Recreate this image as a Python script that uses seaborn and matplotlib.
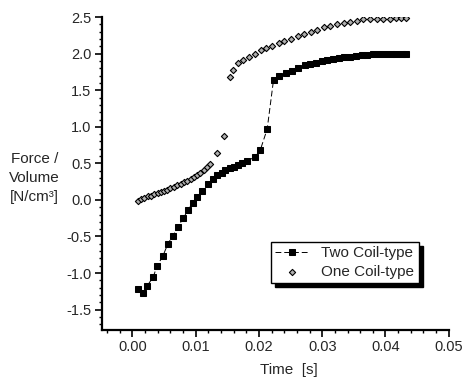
import numpy as np
import pandas as pd
import matplotlib
matplotlib.use("Agg")
import matplotlib.pyplot as plt
from matplotlib.ticker import MultipleLocator, FormatStrFormatter
import seaborn as sns

# Two Coil-type
t_two = [0.0008, 0.0016, 0.0023, 0.0033, 0.0039, 0.0048, 0.0056, 0.0064, 0.0072,
         0.0080, 0.0088, 0.0095, 0.0102, 0.0110, 0.0119, 0.0127, 0.0134, 0.0141,
         0.0147, 0.0155, 0.0161, 0.0167, 0.0173, 0.0181, 0.0194, 0.0202, 0.0213,
         0.0223, 0.0232, 0.0242, 0.0252, 0.0261, 0.0272, 0.0281, 0.0290, 0.0299,
         0.0308, 0.0317, 0.0326, 0.0335, 0.0344, 0.0354, 0.0363, 0.0371, 0.0381,
         0.0390, 0.0399, 0.0408, 0.0417, 0.0426, 0.0433]
f_two = [-1.22, -1.28, -1.18, -1.05, -0.90, -0.77, -0.60, -0.49, -0.37,
         -0.25, -0.14, -0.04, 0.04, 0.12, 0.22, 0.29, 0.34, 0.37,
         0.41, 0.44, 0.45, 0.48, 0.51, 0.53, 0.59, 0.68, 0.97,
         1.64, 1.69, 1.73, 1.77, 1.81, 1.84, 1.86, 1.88, 1.90,
         1.92, 1.93, 1.94, 1.95, 1.96, 1.97, 1.98, 1.98, 1.99,
         1.99, 1.99, 2.00, 2.00, 2.00, 2.00]

# One Coil-type
t_one = [0.0008, 0.0014, 0.0019, 0.0024, 0.0029, 0.0034, 0.0040, 0.0045, 0.0050,
         0.0055, 0.0060, 0.0066, 0.0071, 0.0076, 0.0081, 0.0086, 0.0092, 0.0097,
         0.0102, 0.0107, 0.0113, 0.0118, 0.0123, 0.0133, 0.0145,
         0.0154, 0.0159, 0.0167, 0.0175, 0.0184, 0.0193, 0.0203, 0.0211, 0.0221,
         0.0231, 0.0240, 0.0250, 0.0261, 0.0271, 0.0282, 0.0292, 0.0303, 0.0313,
         0.0323, 0.0334, 0.0344, 0.0355, 0.0365, 0.0375, 0.0386, 0.0396, 0.0407,
         0.0417, 0.0425, 0.0433]
f_one = [-0.01, 0.01, 0.03, 0.05, 0.06, 0.08, 0.09, 0.11, 0.12,
         0.14, 0.16, 0.18, 0.20, 0.22, 0.24, 0.26, 0.29, 0.32,
         0.34, 0.37, 0.41, 0.45, 0.49, 0.64, 0.87,
         1.68, 1.78, 1.87, 1.92, 1.96, 2.00, 2.05, 2.08, 2.11,
         2.15, 2.18, 2.20, 2.24, 2.27, 2.30, 2.33, 2.36, 2.38,
         2.41, 2.42, 2.43, 2.45, 2.47, 2.47, 2.48, 2.48, 2.48,
         2.49, 2.49, 2.49]

df_two = pd.DataFrame({"t": t_two, "f": f_two})
df_one = pd.DataFrame({"t": t_one, "f": f_one})

sns.set_style("ticks")
plt.rcParams["font.family"] = ["Liberation Sans", "DejaVu Sans"]

fig = plt.figure(figsize=(4.65, 3.82), dpi=100)
ax = fig.add_axes([0.219, 0.136, 0.746, 0.819])

sns.lineplot(data=df_two, x="t", y="f", ax=ax, color="black", lw=0.7,
             linestyle=(0, (6, 3)), marker="s", markersize=4.2,
             markeredgecolor="black", label="Two Coil-type")
sns.scatterplot(data=df_one, x="t", y="f", ax=ax, marker="D", s=10,
                facecolor="#b0b0b0", edgecolor="black", linewidth=0.8,
                label="One Coil-type")

ax.set_xlim(-0.00484, 0.05)
ax.set_ylim(-1.78, 2.5)
ax.xaxis.set_major_locator(MultipleLocator(0.01))
ax.xaxis.set_minor_locator(MultipleLocator(0.002))
ax.yaxis.set_major_locator(MultipleLocator(0.5))
ax.yaxis.set_minor_locator(MultipleLocator(0.1))
ax.xaxis.set_major_formatter(FormatStrFormatter("%.2f"))
ax.yaxis.set_major_formatter(FormatStrFormatter("%.1f"))
ax.tick_params(which="major", direction="out", length=5, width=1.2,
               labelsize=10.5, color="black", pad=2.5)
ax.tick_params(which="minor", direction="out", length=2.5, width=1.0,
               color="black")
for s in ["left", "bottom"]:
    ax.spines[s].set_linewidth(1.6)
    ax.spines[s].set_color("black")
sns.despine(ax=ax)

ax.set_xlabel("Time  [s]", fontsize=11)
ax.xaxis.set_label_coords(0.54, -0.105)
ax.set_ylabel("Force /\nVolume\n[N/cm³]", fontsize=11, rotation=0,
              ha="center", va="center", linespacing=1.45)
ax.yaxis.set_label_coords(-0.195, 0.485)

leg = ax.legend(loc="lower right", bbox_to_anchor=(0.935, 0.125),
                frameon=True, fancybox=False, fontsize=11,
                shadow={"color": "black", "alpha": 1, "ox": 3, "oy": -3},
                handlelength=2.2, borderpad=0.3, labelspacing=0.3)
leg.get_frame().set_edgecolor("black")
leg.get_frame().set_linewidth(1.0)

fig.savefig("out.png", dpi=100)
